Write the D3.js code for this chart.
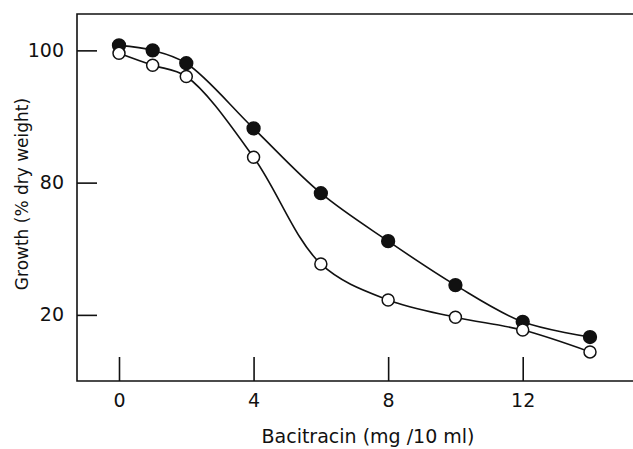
<!DOCTYPE html>
<html>
<head>
<meta charset="utf-8">
<script src="https://cdn.jsdelivr.net/npm/d3@7"></script>
<style>
  body { margin: 0; background: #fff; }
  svg { display: block; }
  text { font-family: "DejaVu Sans", sans-serif; fill: #111; }
</style>
</head>
<body>
<div id="chart"></div>
<script>
// bacitracin dose (mg / 10 ml)
let doses = [0, 1, 2, 4, 6, 8, 10, 12, 14];
// growth, filled circles
let filledSeries = [101.5, 100, 96.1, 76.4, 56.8, 42.3, 29.0, 17.9, 13.3];
// growth, open circles
let openSeries = [99.1, 95.5, 92.1, 67.7, 35.4, 24.5, 19.3, 15.4, 8.8];
let xTicks = [0, 4, 8, 12];
let yTicks = [100, 60, 20];
let yTickLabels = ["100", "80", "20"];

let width = 633,
    height = 449,
    frame = {left: 77, top: 14, bottom: 381, right: 633};

let svg = d3.select('#chart').append('svg')
    .attr('width', width)
    .attr('height', height);

let x = d3.scaleLinear().domain([0, 14]).range([119, 590]);
let y = d3.scaleLinear().domain([0, 111]).range([frame.bottom, frame.top]);

// frame: left, top and bottom lines (no right side)
svg.append('path')
    .attr('d', `M${frame.right},${frame.top}H${frame.left}V${frame.bottom}H${frame.right}`)
    .attr('fill', 'none')
    .attr('stroke', '#111')
    .attr('stroke-width', 1.6);

// x ticks point up into the plot
let xAxis = svg.append('g')
    .attr('transform', `translate(0,${frame.bottom})`)
    .call(d3.axisBottom(x).tickValues(xTicks).tickSizeInner(-24).tickSizeOuter(0).tickPadding(13));
xAxis.select('.domain').remove();
xAxis.selectAll('line').attr('stroke', '#111').attr('stroke-width', 1.6);
xAxis.selectAll('text').attr('font-size', 19).attr('fill', '#111')
    .attr('font-family', '"DejaVu Sans", sans-serif');

// y ticks point right into the plot
let yAxis = svg.append('g')
    .attr('transform', `translate(${frame.left},0)`)
    .call(d3.axisLeft(y).tickValues(yTicks)
        .tickFormat((d, i) => yTickLabels[i])
        .tickSizeInner(-20).tickSizeOuter(0).tickPadding(13));
yAxis.select('.domain').remove();
yAxis.selectAll('line').attr('stroke', '#111').attr('stroke-width', 1.6);
yAxis.selectAll('text').attr('font-size', 19).attr('fill', '#111')
    .attr('font-family', '"DejaVu Sans", sans-serif');

// axis titles
svg.append('text')
    .attr('x', 368)
    .attr('y', 443)
    .attr('text-anchor', 'middle')
    .attr('font-size', 19)
    .text('Bacitracin (mg /10 ml)');

svg.append('text')
    .attr('transform', 'translate(28,194) rotate(-90)')
    .attr('text-anchor', 'middle')
    .attr('font-size', 17)
    .text('Growth (% dry weight)');

let line = d3.line()
    .x(d => x(d[0]))
    .y(d => y(d[1]))
    .curve(d3.curveCatmullRom.alpha(0.5));

let series = [
    {values: filledSeries, fill: '#111', r: 6.4},
    {values: openSeries, fill: '#fff', r: 6}
];

series.forEach(function(s) {
    let pts = doses.map((d, i) => [d, s.values[i]]);
    svg.append('path')
        .datum(pts)
        .attr('d', line)
        .attr('fill', 'none')
        .attr('stroke', '#111')
        .attr('stroke-width', 1.6);
});

series.forEach(function(s) {
    let pts = doses.map((d, i) => [d, s.values[i]]);
    svg.append('g').selectAll('circle')
        .data(pts)
        .join('circle')
        .attr('cx', d => x(d[0]))
        .attr('cy', d => y(d[1]))
        .attr('r', s.r)
        .attr('fill', s.fill)
        .attr('stroke', '#111')
        .attr('stroke-width', 1.5);
});
</script>
</body>
</html>
